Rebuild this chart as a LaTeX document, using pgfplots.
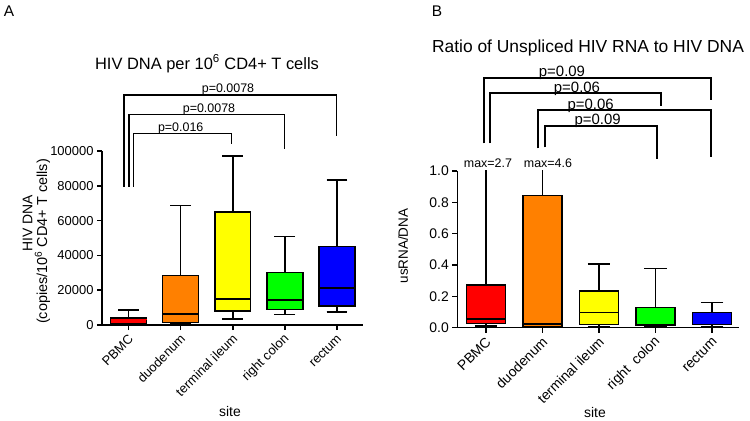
\documentclass[border=0pt]{standalone}
\usepackage{fontspec}
\setmainfont{Liberation Sans}
\usepackage{pgfplots}
\pgfplotsset{compat=1.18}
\usepgfplotslibrary{statistics}
\definecolor{cred}{RGB}{255,0,0}
\definecolor{corange}{RGB}{255,128,0}
\definecolor{cyellow}{RGB}{255,255,0}
\definecolor{cgreen}{RGB}{0,255,0}
\definecolor{cblue}{RGB}{0,0,255}
\begin{document}
\begin{tikzpicture}
\useasboundingbox (0bp,0bp) rectangle (750bp,421bp);
\pgfplotsset{
  gpstyle/.style={
    scale only axis,
    axis x line*=bottom, axis y line*=left,
    axis line style={line width=1.6pt,-},
    tick style={line width=1.6pt,black},
    major tick length=5bp,
    tick align=outside,
    xtick={1,2,3,4,5},
    yticklabel style={font=\fontsize{13}{13}\selectfont},
    /pgf/number format/assume math mode=true,
    boxplot/draw direction=y,
    boxplot/box extend=0.69,
    boxplot/whisker extend=0.4,
    boxplot/every whisker/.style={line width=1.5pt},
    boxplot/every box/.style={line width=1.5pt},
    boxplot/every median/.style={line width=1.5pt},
    every axis plot/.append style={draw=black,line width=1.5pt,solid},
  }
}
% ---------------- Panel A ----------------
\begin{axis}[gpstyle,
  at={(102bp,96bp)}, anchor=south west,
  width=261bp, height=174bp,
  xmin=0.49, xmax=5.5, ymin=0, ymax=100,
  ytick={0,20,40,60,80,100},
  yticklabels={0,20000,40000,60000,80000,100000},
  xticklabels={PBMC,duodenum,terminal ileum,right colon,rectum},
  xticklabel style={xshift=3bp,yshift=-6bp,rotate=45,anchor=east,font=\fontsize{13}{13}\selectfont,inner sep=1pt},
]
% values in thousands of copies per 10^6 CD4+ T cells
\addplot[fill=cred, boxplot prepared={lower whisker=0.3, lower quartile=0.6, median=2.9, upper quartile=4.0, upper whisker=8.6, draw position=1, every median/.style={draw=cred,line width=1pt}}] coordinates {};
\addplot[fill=corange, boxplot prepared={lower whisker=0.7, lower quartile=1.5, median=6.3, upper quartile=28.4, upper whisker=68.6, draw position=2}] coordinates {};
\addplot[fill=cyellow, boxplot prepared={lower whisker=3.4, lower quartile=8.0, median=15.0, upper quartile=64.8, upper whisker=97.0, draw position=3}] coordinates {};
\addplot[fill=cgreen, boxplot prepared={lower whisker=6.1, lower quartile=9.0, median=14.5, upper quartile=30.1, upper whisker=51.0, draw position=4}] coordinates {};
\addplot[fill=cblue, boxplot prepared={lower whisker=7.6, lower quartile=11.0, median=21.3, upper quartile=45.0, upper whisker=83.3, draw position=5}] coordinates {};
\end{axis}
% ---------------- Panel B ----------------
\begin{axis}[gpstyle,
  at={(457.3bp,93.3bp)}, anchor=south west,
  width=282bp, height=156.7bp,
  xmin=0.49, xmax=5.48, ymin=0, ymax=1,
  ytick={0,0.2,0.4,0.6,0.8,1.0},
  yticklabel style={font=\fontsize{14}{14}\selectfont,/pgf/number format/fixed,/pgf/number format/fixed zerofill,/pgf/number format/precision=1},
  xticklabels={PBMC,duodenum,terminal ileum,right\ \ colon,rectum},
  xticklabel style={xshift=3bp,yshift=-6bp,rotate=45,anchor=east,font=\fontsize{14}{14}\selectfont,inner sep=1pt},
]
\addplot[fill=cred, boxplot prepared={lower whisker=0.012, lower quartile=0.028, median=0.054, upper quartile=0.272, upper whisker=2.7, draw position=1}] coordinates {};
\addplot[fill=corange, boxplot prepared={lower whisker=0.003, lower quartile=0.008, median=0.024, upper quartile=0.845, upper whisker=4.6, draw position=2}] coordinates {};
\addplot[fill=cyellow, boxplot prepared={lower whisker=0.006, lower quartile=0.02, median=0.096, upper quartile=0.234, upper whisker=0.408, draw position=3}] coordinates {};
\addplot[fill=cgreen, boxplot prepared={lower whisker=0.004, lower quartile=0.017, median=0.02, upper quartile=0.128, upper whisker=0.379, draw position=4}] coordinates {};
\addplot[fill=cblue, boxplot prepared={lower whisker=0.006, lower quartile=0.019, median=0.022, upper quartile=0.098, upper whisker=0.162, draw position=5}] coordinates {};
\end{axis}
\begin{scope}[x=1bp,y=1bp]
% ---------------- Texts ----------------
\node[font=\fontsize{15.5}{16}\selectfont] at (9,409.5) {A};
\node[font=\fontsize{15.5}{16}\selectfont] at (437,410) {B};
\node[anchor=base,font=\fontsize{16.5}{17}\selectfont] at (207,352) {HIV DNA per 10\textsuperscript{6} CD4+ T cells};
\node[anchor=base,font=\fontsize{17.5}{18}\selectfont] at (588,368.7) {Ratio of Unspliced HIV RNA to HIV DNA};
\node[rotate=90,font=\fontsize{14}{15}\selectfont] at (27.5,198) {HIV DNA};
\node[rotate=90,font=\fontsize{14.5}{15}\selectfont] at (42.5,179.5) {(copies/10\textsuperscript{6} CD4+ T cells)};
\node[rotate=90,font=\fontsize{13.5}{14}\selectfont] at (403,175) {usRNA/DNA};
\node[anchor=base,font=\fontsize{14}{14}\selectfont] at (230,5) {site};
\node[anchor=base,font=\fontsize{14}{14}\selectfont] at (595,4) {site};
% brackets A
\begin{scope}[line width=1.2pt]
\draw (124,234) -- (124,326) -- (336.7,326) -- (336.7,285.3);
\draw (129,234) -- (129,306.7) -- (284.3,306.7) -- (284.3,272);
\draw (133.5,234) -- (133.5,287.7) -- (231.7,287.7) -- (231.7,277);
\end{scope}
\node[anchor=base,inner sep=0pt,font=\fontsize{12.5}{13}\selectfont] at (228,328.5) {p=0.0078};
\node[anchor=base,inner sep=0pt,font=\fontsize{12.5}{13}\selectfont] at (209,308.7) {p=0.0078};
\node[anchor=base,inner sep=0pt,font=\fontsize{12.5}{13}\selectfont] at (180.7,289.3) {p=0.016};
% brackets B
\begin{scope}[line width=1.8pt]
\draw (484,277.7) -- (484,342.7) -- (711,342.7) -- (711,321);
\draw (490,277.7) -- (490,327.7) -- (661,327.7) -- (661,315);
\draw (538.3,272.7) -- (538.3,311) -- (711,311) -- (711,263.7);
\draw (545,273.7) -- (545,295.3) -- (656.7,295.3) -- (656.7,262);
\end{scope}
\node[anchor=base,inner sep=0pt,font=\fontsize{15}{15}\selectfont] at (562,345) {p=0.09};
\node[anchor=base,inner sep=0pt,font=\fontsize{15}{15}\selectfont] at (577,328.7) {p=0.06};
\node[anchor=base,inner sep=0pt,font=\fontsize{15}{15}\selectfont] at (590.7,311.7) {p=0.06};
\node[anchor=base,inner sep=0pt,font=\fontsize{15}{15}\selectfont] at (597.7,297) {p=0.09};
\node[anchor=base,inner sep=0pt,font=\fontsize{12.5}{13}\selectfont] at (488,253.7) {max=2.7};
\node[anchor=base,inner sep=0pt,font=\fontsize{12.5}{13}\selectfont] at (548,253.7) {max=4.6};
\end{scope}
\end{tikzpicture}
\end{document}
